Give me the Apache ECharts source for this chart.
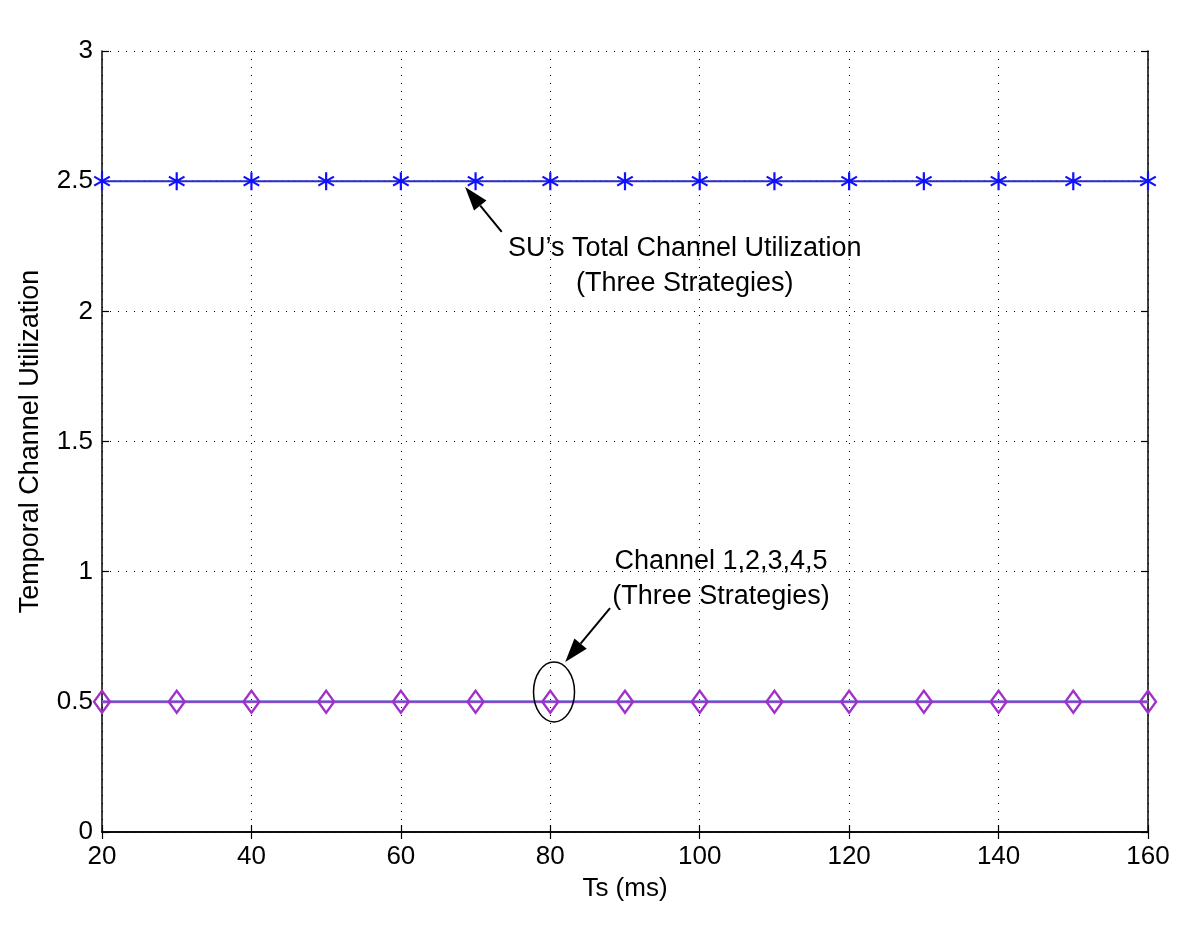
<!DOCTYPE html>
<html><head><meta charset="utf-8">
<script src="https://cdn.jsdelivr.net/npm/echarts@6/dist/echarts.min.js"></script>
<style>html,body{margin:0;padding:0;background:#fff}#c{width:1200px;height:937px}</style>
</head><body><div id="c"></div>
<script>
var ts = [20,30,40,50,60,70,80,90,100,110,120,130,140,150,160];
var suTotal = [2.5,2.5,2.5,2.5,2.5,2.5,2.5,2.5,2.5,2.5,2.5,2.5,2.5,2.5,2.5];
var channelUtil = [0.5,0.5,0.5,0.5,0.5,0.5,0.5,0.5,0.5,0.5,0.5,0.5,0.5,0.5,0.5];
var xTicks = [20,40,60,80,100,120,140,160];
var yTicks = [0,0.5,1,1.5,2,2.5,3];
var ann1 = {lines:['SU\u2019s Total Channel Utilization','(Three Strategies)'], at:[[98.0,2.243],[98.0,2.105]],
            arrowFrom:[73.5,2.305], arrowTo:[68.6,2.478]};
var ann2 = {lines:['Channel 1,2,3,4,5','(Three Strategies)'], at:[[102.85,1.038],[102.85,0.905]],
            arrowFrom:[88.0,0.860], arrowTo:[82.0,0.653], ellipse:[80.5,0.538]};

var FONT = 'Liberation Sans, Arial, Helvetica, sans-serif';
function pairs(xs, ys){ return xs.map(function(x,i){return [x, ys[i]];}); }
var starPath = 'path://M0,-10 L0,10 M-8.66,-5 L8.66,5 M-8.66,5 L8.66,-5';

var chart = echarts.init(document.getElementById('c'), null, {renderer:'canvas'});
function axisCommon(){ return {
  axisLine:{show:true,lineStyle:{color:'#000',width:1.5}},
  axisTick:{show:true,inside:true,length:7,lineStyle:{color:'#000',width:1.2}}
};}
var option = {
  animation:false,
  backgroundColor:'#fff',
  grid:{left:102,right:52,top:51,bottom:105,show:false,containLabel:false,outerBoundsMode:'none'},
  xAxis:[Object.assign({type:'value',min:20,max:160,interval:20,
     name:'Ts (ms)',nameLocation:'middle',nameGap:44,
     nameTextStyle:{fontFamily:FONT,fontSize:26,color:'#000'},
     axisLabel:{fontFamily:FONT,fontSize:26,color:'#000',margin:12},
     splitLine:{show:true,lineStyle:{color:'#000',type:[1,7],width:1}}},axisCommon()),
     Object.assign({type:'value',position:'top',min:20,max:160,interval:20,axisLabel:{show:false},splitLine:{show:false}},axisCommon())],
  yAxis:[Object.assign({type:'value',min:0,max:3,interval:0.5,
     name:'Temporal Channel Utilization',nameLocation:'middle',nameGap:58,
     nameTextStyle:{fontFamily:FONT,fontSize:27,color:'#000'},
     axisLabel:{fontFamily:FONT,fontSize:26,color:'#000',margin:9,formatter:function(v){return String(v);}},
     splitLine:{show:true,lineStyle:{color:'#000',type:[1,7],width:1}}},axisCommon()),
     Object.assign({type:'value',position:'right',min:0,max:3,interval:0.5,axisLabel:{show:false},splitLine:{show:false}},axisCommon())],
  series:[
    {type:'line',data:pairs(ts,suTotal),symbol:'none',lineStyle:{color:'#000',width:1.2,type:[1,5]},z:2},
    {type:'line',data:pairs(ts,suTotal),symbol:starPath,symbolSize:18,symbolKeepAspect:true,
     lineStyle:{color:'#2a2ad0',width:2},
     itemStyle:{color:'none',borderColor:'#1010ff',borderWidth:2.2},z:3},
    {type:'line',data:pairs(ts,channelUtil),symbol:'none',lineStyle:{color:'#6aa0e0',width:3},z:2},
    {type:'line',data:pairs(ts,channelUtil),symbol:'diamond',symbolSize:[16,22],
     lineStyle:{color:'#a030c8',width:2},
     itemStyle:{color:'rgba(255,255,255,0)',borderColor:'#a030c8',borderWidth:2.4},z:3}
  ]
};
chart.setOption(option);

function px(p){ return chart.convertToPixel({gridIndex:0}, p); }
function arrow(from,to){
  var a = px(from), b = px(to);
  var dx=b[0]-a[0], dy=b[1]-a[1], L=Math.sqrt(dx*dx+dy*dy), ux=dx/L, uy=dy/L;
  var hl=24, hw=8;
  var bx=b[0]-ux*hl, by=b[1]-uy*hl;
  return [
    {type:'line',shape:{x1:a[0],y1:a[1],x2:bx,y2:by},style:{stroke:'#000',lineWidth:2},z:10},
    {type:'polygon',shape:{points:[[b[0],b[1]],[bx-uy*hw,by+ux*hw],[bx+uy*hw,by-ux*hw]]},style:{fill:'#000'},z:10}
  ];
}
function texts(ann){
  return ann.lines.map(function(t,i){
    var p = px(ann.at[i]);
    return {type:'text',x:p[0],y:p[1],style:{text:t,font:'27px '+FONT,fill:'#000',align:'center',verticalAlign:'middle'},z:10};
  });
}
var e = px(ann2.ellipse);
var g = [];
g = g.concat(arrow(ann1.arrowFrom, ann1.arrowTo));
g = g.concat(arrow(ann2.arrowFrom, ann2.arrowTo));
g = g.concat(texts(ann1)).concat(texts(ann2));
g.push({type:'ellipse',shape:{cx:e[0],cy:e[1],rx:20.5,ry:30},style:{fill:'none',stroke:'#000',lineWidth:1.5},z:10});
chart.setOption({graphic:g});
</script></body></html>
